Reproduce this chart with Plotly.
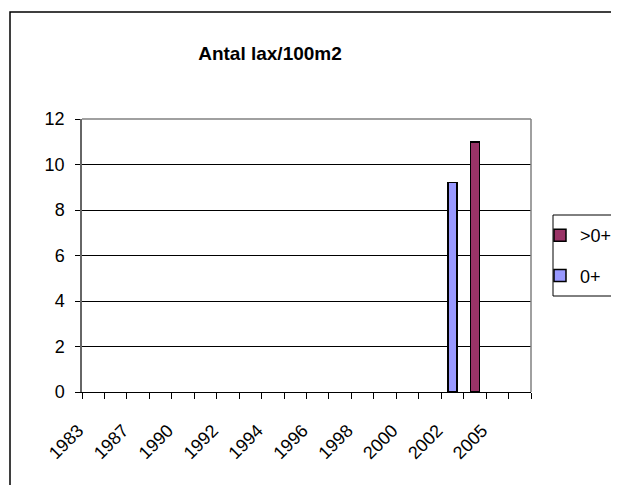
import plotly.graph_objects as go

# Data
years = ["1983", "1985", "1987", "1988", "1990", "1991", "1992", "1993", "1994", "1995",
         "1996", "1997", "1998", "1999", "2000", "2001", "2002", "2004", "2005", "2006"]
shown_labels = ["1983", "1987", "1990", "1992", "1994", "1996", "1998", "2000", "2002", "2005"]
young = [None] * 16 + [9.2, None, None, None]          # 0+
older = [None] * 17 + [11.0, None, None]               # >0+
y_ticks = [0, 2, 4, 6, 8, 10, 12]

# The page body has an 8px margin, so the figure is laid out in coordinates shifted by 8px.
OFF = 8
W, H = 619 - OFF, 493 - 2 * OFF
L = 82 - OFF
T = 119 - OFF
R = W - (531 - OFF)
B = H - (392 - OFF)
pw, ph = W - L - R, H - T - B

def px_x(x_ref):
    return (x_ref - OFF - L) / pw

def px_y(y_ref):
    return (H - B - (y_ref - OFF)) / ph

FONT = "Liberation Sans, Arial, sans-serif"

fig = go.Figure()
fig.add_trace(go.Bar(x=years, y=young, name="0+", legendgroup="a", legendrank=2,
                     marker=dict(color="#9999FF", line=dict(color="black", width=1.5))))
fig.add_trace(go.Bar(x=years, y=older, name=">0+", legendgroup="b", legendrank=1,
                     marker=dict(color="#993366", line=dict(color="black", width=1.5))))

ticktext = [""] * len(years)
for i, lab in enumerate(shown_labels):
    ticktext[2 * i] = lab

fig.update_layout(
    width=W, height=H,
    margin=dict(l=L, r=R, t=T, b=B, pad=0, autoexpand=False),
    paper_bgcolor="white", plot_bgcolor="white",
    barmode="stack", bargap=0.6,
    font=dict(family=FONT, color="black", size=18),
    title=dict(text="Antal lax/100m2", x=(270 - OFF) / W, xanchor="center", xref="container",
               y=1 - (53 - OFF) / H, yanchor="middle", yref="container",
               font=dict(family=FONT, size=19, weight="bold", color="black")),
    xaxis=dict(type="category", categoryorder="array", categoryarray=years,
               tickmode="array", tickvals=years, ticktext=ticktext,
               tickangle=-45, tickson="boundaries", ticks="outside", ticklen=6,
               tickcolor="black", showline=True, linecolor="black", linewidth=1,
               showgrid=False, ticklabelstandoff=20, ticklabelshift=-15,
               tickfont=dict(size=18)),
    yaxis=dict(range=[0, 12], tickvals=y_ticks, ticks="outside", ticklen=5,
               tickcolor="black", showline=True, linecolor="#666666", linewidth=1.5,
               showgrid=True, gridcolor="black", gridwidth=1, zeroline=False,
               ticklabelstandoff=7, tickfont=dict(size=18)),
    legend=dict(xref="container", yref="container",
                x=(540 - OFF) / W, y=1 - (217 - OFF) / H, xanchor="left", yanchor="top",
                traceorder="grouped", tracegroupgap=14,
                bgcolor="rgba(0,0,0,0)", borderwidth=0, font=dict(size=18)),
    showlegend=True,
)

shapes = [
    dict(type="line", xref="paper", yref="paper", x0=0, x1=1, y0=1, y1=1,
         line=dict(color="#808080", width=1.5), layer="above"),
    dict(type="line", xref="paper", yref="paper", x0=1, x1=1, y0=0, y1=1,
         line=dict(color="#808080", width=1.5), layer="above"),
    dict(type="rect", xref="paper", yref="paper", x0=px_x(10), x1=px_x(680),
         y0=px_y(560), y1=px_y(12), line=dict(color="black", width=1.5),
         fillcolor="rgba(0,0,0,0)", layer="above"),
    dict(type="rect", xref="paper", yref="paper", x0=px_x(553), x1=px_x(680),
         y0=px_y(296), y1=px_y(215), line=dict(color="black", width=1),
         fillcolor="rgba(0,0,0,0)", layer="above"),
]
fig.update_layout(shapes=shapes)

fig.write_html("out.html")
